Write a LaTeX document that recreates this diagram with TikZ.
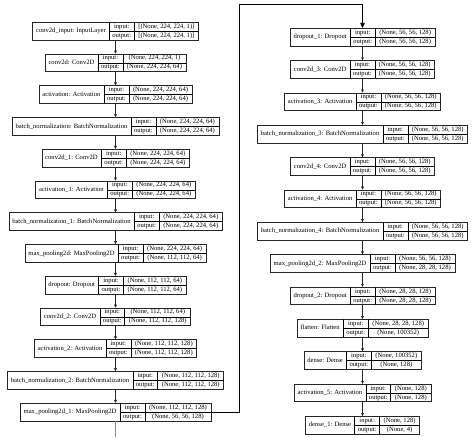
\documentclass[tikz,border=0pt]{standalone}
\usepackage{fontspec}
\setmainfont{Liberation Serif}
\usepackage{tikz}
\usetikzlibrary{arrows.meta, positioning}

% one record: label | input/output | shapes
\newcommand{\rec}[3]{%
  \begin{tabular}{@{\hspace{3.5pt}}c@{\hspace{3.5pt}}|@{}c@{}}
    #1 &
    \begin{tabular}{@{\hspace{3pt}}c@{\hspace{3pt}}|@{\hspace{4pt}}c@{\hspace{4pt}}}
      input: & #2\\\hline
      output: & #3
    \end{tabular}
  \end{tabular}}

\tikzset{
  layer/.style={draw=black!85, line width=0.45pt, inner sep=0pt,
    font=\fontsize{6.6}{8.6}\selectfont},
  flow/.style={draw=black!85, line width=0.45pt, -{Triangle[length=3pt,width=2.6pt]}},
  jump/.style={draw=black, line width=0.7pt},
  stub/.style={draw=black!45, line width=0.4pt},
}

\begin{document}
\begin{tikzpicture}[x=1pt,y=1pt]
        \useasboundingbox (0,0) rectangle (474,438);

        % 1. Left column
        \begin{scope}[node distance=13.7pt]
        \node[layer, anchor=north] (l1) at (115.5,416)
            {\rec{conv2d\_input: InputLayer}{[(None, 224, 224, 1)]}{[(None, 224, 224, 1)]}};
        \node[layer, below=of l1] (l2)
            {\rec{conv2d: Conv2D}{(None, 224, 224, 1)}{(None, 224, 224, 64)}};
        \node[layer, below=of l2] (l3)
            {\rec{activation: Activation}{(None, 224, 224, 64)}{(None, 224, 224, 64)}};
        \node[layer, below=of l3] (l4)
            {\rec{batch\_normalization: BatchNormalization}{(None, 224, 224, 64)}{(None, 224, 224, 64)}};
        \node[layer, below=of l4] (l5)
            {\rec{conv2d\_1: Conv2D}{(None, 224, 224, 64)}{(None, 224, 224, 64)}};
        \node[layer, below=of l5] (l6)
            {\rec{activation\_1: Activation}{(None, 224, 224, 64)}{(None, 224, 224, 64)}};
        \node[layer, below=of l6] (l7)
            {\rec{batch\_normalization\_1: BatchNormalization}{(None, 224, 224, 64)}{(None, 224, 224, 64)}};
        \node[layer, below=of l7] (l8)
            {\rec{max\_pooling2d: MaxPooling2D}{(None, 224, 224, 64)}{(None, 112, 112, 64)}};
        \node[layer, below=of l8] (l9)
            {\rec{dropout: Dropout}{(None, 112, 112, 64)}{(None, 112, 112, 64)}};
        \node[layer, below=of l9] (l10)
            {\rec{conv2d\_2: Conv2D}{(None, 112, 112, 64)}{(None, 112, 112, 128)}};
        \node[layer, below=of l10] (l11)
            {\rec{activation\_2: Activation}{(None, 112, 112, 128)}{(None, 112, 112, 128)}};
        \node[layer, below=of l11] (l12)
            {\rec{batch\_normalization\_2: BatchNormalization}{(None, 112, 112, 128)}{(None, 112, 112, 128)}};
        \node[layer, below=of l12] (l13)
            {\rec{max\_pooling2d\_1: MaxPooling2D}{(None, 112, 112, 128)}{(None, 56, 56, 128)}};
        \end{scope}

        % 2. Right column
        \begin{scope}[node distance=14.3pt]
        \node[layer, anchor=north] (l14) at (362.5,410)
            {\rec{dropout\_1: Dropout}{(None, 56, 56, 128)}{(None, 56, 56, 128)}};
        \node[layer, below=of l14] (l15)
            {\rec{conv2d\_3: Conv2D}{(None, 56, 56, 128)}{(None, 56, 56, 128)}};
        \node[layer, below=of l15] (l16)
            {\rec{activation\_3: Activation}{(None, 56, 56, 128)}{(None, 56, 56, 128)}};
        \node[layer, below=of l16] (l17)
            {\rec{batch\_normalization\_3: BatchNormalization}{(None, 56, 56, 128)}{(None, 56, 56, 128)}};
        \node[layer, below=of l17] (l18)
            {\rec{conv2d\_4: Conv2D}{(None, 56, 56, 128)}{(None, 56, 56, 128)}};
        \node[layer, below=of l18] (l19)
            {\rec{activation\_4: Activation}{(None, 56, 56, 128)}{(None, 56, 56, 128)}};
        \node[layer, below=of l19] (l20)
            {\rec{batch\_normalization\_4: BatchNormalization}{(None, 56, 56, 128)}{(None, 56, 56, 128)}};
        \node[layer, below=of l20] (l21)
            {\rec{max\_pooling2d\_2: MaxPooling2D}{(None, 56, 56, 128)}{(None, 28, 28, 128)}};
        \node[layer, below=of l21] (l22)
            {\rec{dropout\_2: Dropout}{(None, 28, 28, 128)}{(None, 28, 28, 128)}};
        \node[layer, below=of l22] (l23)
            {\rec{flatten: Flatten}{(None, 28, 28, 128)}{(None, 100352)}};
        \node[layer, below=of l23] (l24)
            {\rec{dense: Dense}{(None, 100352)}{(None, 128)}};
        \node[layer, below=of l24] (l25)
            {\rec{activation\_5: Activation}{(None, 128)}{(None, 128)}};
        \node[layer, below=of l25] (l26)
            {\rec{dense\_1: Dense}{(None, 128)}{(None, 4)}};
        \end{scope}

        % 3. Arrows inside each column
        \foreach \i [evaluate=\i as \j using int(\i+1)] in {1,...,12,14,15,...,25}
            \draw[flow] (l\i) -- (l\j);

        % 4. Link from the bottom of the left column to the top of the right one
        \coordinate (turn) at (239,434);
        \coordinate[below=16pt of l13] (stubend);
        \draw[stub] (l13) -- (stubend);
        \draw[jump] (l13.east) -| (turn) -- (turn -| l14);
        \draw[jump, -{Triangle[length=5pt,width=4.5pt]}] (turn -| l14) -- (l14);
    \end{tikzpicture}
\end{document}
